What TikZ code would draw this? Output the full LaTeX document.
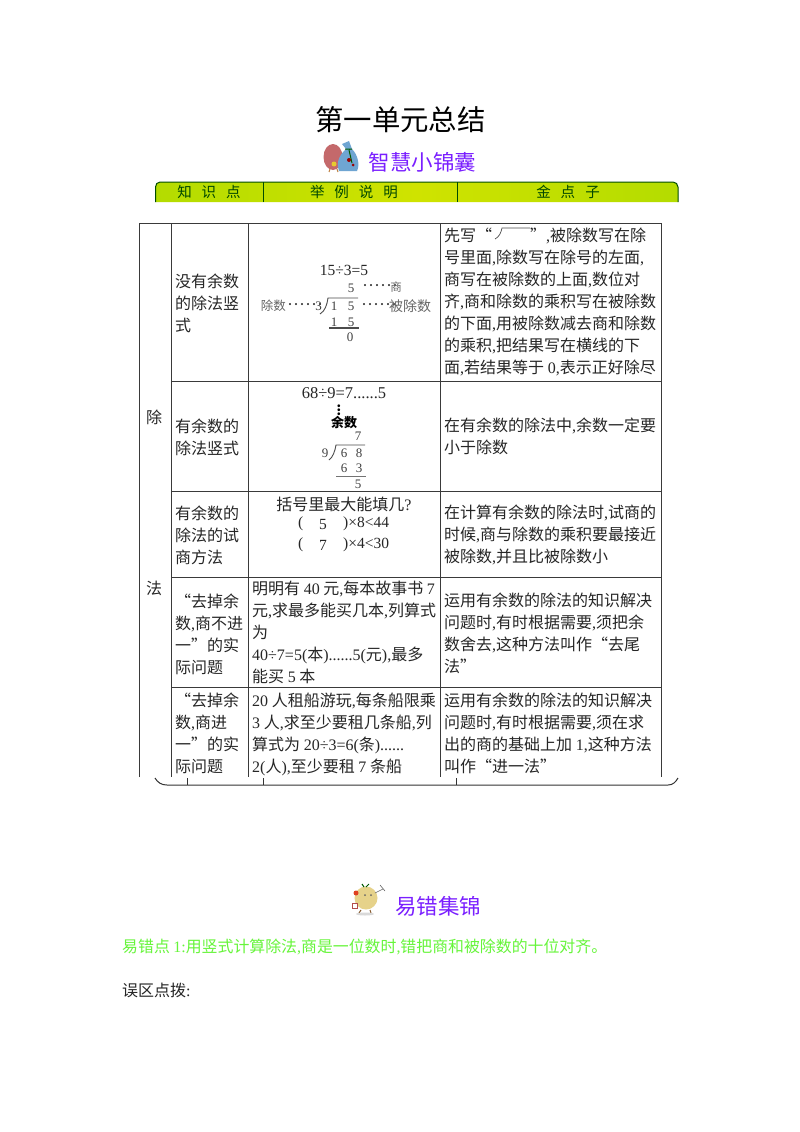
\documentclass[tikz,border=0pt]{standalone}
\usepackage{fontspec}
\setmainfont{Noto Sans CJK SC}
\newfontfamily\latfont{Liberation Serif}
\newcommand{\lat}[1]{{\latfont #1}}
\definecolor{gridgray}{HTML}{3A3A3A}
\definecolor{inkgray}{HTML}{262626}
\definecolor{titlepurple}{HTML}{7A1FFF}
\definecolor{pointgreen}{HTML}{66F53A}
\definecolor{barlime}{HTML}{B4DC00}
\definecolor{barmid}{HTML}{CFE300}
\definecolor{applered}{HTML}{C4696B}
\definecolor{bagblue}{HTML}{6FA5D2}
\definecolor{fruityellow}{HTML}{E6D28A}
\tikzset{
	cell/.style={anchor=north west,inner sep=0pt,align=left,text=inkgray,font=\fontsize{16}{22}\selectfont},
	heading/.style={inner sep=0pt,text=titlepurple,font=\fontsize{21.5}{24}\selectfont},
	barlabel/.style={inner sep=0pt,text=black!60!green!70!black,font=\fontsize{14.5}{16}\selectfont},
	sumtext/.style={inner sep=0pt,text=inkgray,font=\latfont\fontsize{15.5}{18}\selectfont},
	digit/.style={inner sep=0pt,text=black!75,font=\latfont\fontsize{13}{14}\selectfont},
	dotrow/.style={inner sep=0pt,text=black!75,font=\latfont\fontsize{18}{14}\selectfont},
	smalllabel/.style={inner sep=0pt,text=black!60,font=\fontsize{12.5}{14}\selectfont},
	gridline/.style={draw=gridgray,line width=1pt},
	divline/.style={draw=black!70,line width=0.9pt},
}
\begin{document}
\begin{tikzpicture}[x=1pt,y=-1pt]
	\useasboundingbox[fill=white] (0,0) rectangle (800,1132);

	\node[inner sep=0pt,text=black,font=\fontsize{28.4}{30}\selectfont] (title) at (400.5,120) {第一单元总结};
	\node[heading] (bagtitle) at (422.5,162) {智慧小锦囊};
	\node[heading] (errtitle) at (438,906) {易错集锦};

	% apple and bag
	\fill[applered] (333,157) ellipse (9.5 and 13);
	\fill[bagblue] (339,171) .. controls (335,160) and (342,153) .. (346,149) -- (342,144) -- (349,141) -- (352,149) .. controls (358,155) and (360,165) .. (357,171) -- cycle;
	\draw[green!35!black,line width=1pt] (345,149) -- (352,149) (349,150) -- (352,163);
	\fill[red!60!black] (349,160) circle (2) (353,165) circle (1.5);
	\fill[yellow!60!brown] (334,164) circle (2.5);
	\draw[brown,line width=1pt] (330,169) -- (329,172) (337,169) -- (338,172);

	% header bar
	\path[left color=barlime,right color=barlime,middle color=barmid] (155.5,202) -- (155.5,187) to[out=90,in=180] (160,182) -- (673,182) to[out=0,in=90] (678,187) -- (678,202) -- cycle;
	\draw[draw=green!30!black,line width=1pt] (155.5,202) -- (155.5,187) to[out=90,in=180] (160,182) -- (673,182) to[out=0,in=90] (678,187) -- (678,202);
	\draw[draw=green!30!black,line width=1pt] (263,182) -- (263,202) (457,182) -- (457,202);
	\node[barlabel] (barknow) at (209,192) {知\hspace{10pt}识\hspace{10pt}点};
	\node[barlabel] (barcase) at (354,192) {举\hspace{10pt}例\hspace{10pt}说\hspace{10pt}明};
	\node[barlabel] (bargold) at (568,192) {金\hspace{10pt}点\hspace{10pt}子};

	% table
	\draw[gridline] (139.5,777) -- (139.5,223.5) -- (661,223.5) -- (661,777);
	\draw[gridline] (171.5,223.5) -- (171.5,777) (248,223.5) -- (248,777) (440,223.5) -- (440,777);
	\foreach \rowy in {381,491.5,577,687}
		\draw[gridline] (171.5,\rowy) -- (661,\rowy);

	% bottom bracket
	\draw[draw=black!80,line width=1pt] (155,778) to[out=-60,in=180] (167,785) -- (668,785) to[out=0,in=-120] (678,778);
	\draw[draw=black!80,line width=1pt] (187,778) -- (187,785) (263,778) -- (263,785) (456,778) -- (456,785);

	\node[cell] (chu) at (146,410) {除};
	\node[cell] (fa) at (146,581) {法};

	\node[cell] (nameone) at (175,274) {没有余数\\的除法竖\\式};
	\node[cell] (nametwo) at (175,419) {有余数的\\除法竖式};
	\node[cell] (namethree) at (175,506) {有余数的\\除法的试\\商方法};
	\node[cell] (namefour) at (175,594) {“去掉余\\数\lat{,}商不进\\一”的实\\际问题};
	\node[cell] (namefive) at (175,693) {“去掉余\\数\lat{,}商进\\一”的实\\际问题};

	% first example
	\node[sumtext] (sumone) at (344,270) {15÷3=5};
	\node[digit] (quoone) at (351,288) {5};
	\node[dotrow,anchor=west] (quodots) at (362,288) {······};
	\node[smalllabel,font=\fontsize{11.5}{14}\selectfont] (quolabel) at (396,287) {商};
	\node[smalllabel,anchor=east] (divlabel) at (286,306) {除数};
	\node[dotrow,anchor=west] (divdots) at (287,307) {······};
	\node[digit] (divone) at (318.5,306) {3};
	\node[digit] (aone) at (334,306) {1};
	\node[digit] (bone) at (351,306) {5};
	\node[dotrow,anchor=west] (dvddots) at (361,307) {······};
	\node[smalllabel,anchor=west,font=\fontsize{14}{14}\selectfont] (dvdlabel) at (389,306) {被除数};
	\node[digit] (cone) at (334,322) {1};
	\node[digit] (done) at (351,322) {5};
	\node[digit] (eone) at (350,337) {0};
	\draw[divline] (320,314) .. controls (325,311) and (327,305) .. (328,298) -- (358,298);
	\draw[divline,line width=1.1pt] (329,328) -- (359,328);

	% second example
	\node[sumtext,font=\latfont\fontsize{16.5}{18}\selectfont] (sumtwo) at (344,393) {68÷9=7......5};
	\node[inner sep=0pt,text=black,font=\bfseries\fontsize{13}{14}\selectfont] (vdots) at (339,407) {$\vdots$};
	\node[inner sep=0pt,text=black,font=\bfseries\fontsize{13}{14}\selectfont] (remainder) at (344,423) {余数};
	\node[digit] (quotwo) at (358,436) {7};
	\node[digit] (divtwo) at (325,453) {9};
	\node[digit] (atwo) at (344,453) {6};
	\node[digit] (btwo) at (359,453) {8};
	\node[digit] (ctwo) at (344,468) {6};
	\node[digit] (dtwo) at (359,468) {3};
	\node[digit] (etwo) at (358,484) {5};
	\draw[divline] (329,460) .. controls (333,457) and (335,451) .. (336,445) -- (365,445);
	\draw[divline,draw=black!55] (336,476) -- (366,476);

	% third example
	\node[inner sep=0pt,text=inkgray,font=\fontsize{16}{22}\selectfont] (askfill) at (344,504) {括号里最大能填几\lat{?}};
	\node[sumtext,anchor=west] (lpone) at (298,524) {(};
	\node[sumtext] (fillone) at (323,524) {5};
	\node[sumtext,anchor=west] (restone) at (343,524) {)×8<44};
	\node[sumtext,anchor=west] (lptwo) at (298,545) {(};
	\node[sumtext] (filltwo) at (323,545) {7};
	\node[sumtext,anchor=west] (resttwo) at (343,545) {)×4<30};

	\node[cell] (bookcase) at (252,581) {明明有 \lat{40} 元\lat{,}每本故事书 \lat{7}\\元\lat{,}求最多能买几本\lat{,}列算式\\为\\\lat{40÷7=5(}本\lat{)......5(}元\lat{),}最多\\能买 \lat{5} 本};
	\node[cell] (boatcase) at (252,693) {\lat{20} 人租船游玩\lat{,}每条船限乘\\\lat{3} 人\lat{,}求至少要租几条船\lat{,}列\\算式为 \lat{20÷3=6(}条\lat{)......}\\\lat{2(}人\lat{),}至少要租 \lat{7} 条船};

	% right column
	\node[cell] (ruleone) at (444,228) {先写“\hspace{38pt}”\lat{,}被除数写在除\\号里面\lat{,}除数写在除号的左面\lat{,}\\商写在被除数的上面\lat{,}数位对\\齐\lat{,}商和除数的乘积写在被除数\\的下面\lat{,}用被除数减去商和除数\\的乘积\lat{,}把结果写在横线的下\\面\lat{,}若结果等于 \lat{0,}表示正好除尽};
	\draw[draw=black!70,line width=0.7pt] (495,239) .. controls (499,237) and (501,233) .. (502,228) -- (530,228);
	\node[cell] (ruletwo) at (444,418) {在有余数的除法中\lat{,}余数一定要\\小于除数};
	\node[cell] (rulethree) at (444,505) {在计算有余数的除法时\lat{,}试商的\\时候\lat{,}商与除数的乘积要最接近\\被除数\lat{,}并且比被除数小};
	\node[cell] (rulefour) at (444,593) {运用有余数的除法的知识解决\\问题时\lat{,}有时根据需要\lat{,}须把余\\数舍去\lat{,}这种方法叫作“去尾\\法”};
	\node[cell] (rulefive) at (444,693) {运用有余数的除法的知识解决\\问题时\lat{,}有时根据需要\lat{,}须在求\\出的商的基础上加 \lat{1,}这种方法\\叫作“进一法”};

	% fruit figure
	\fill[fruityellow] (366,898) circle (11.5);
	\draw[brown!70!black,line width=1pt] (361,910) -- (359,913) (370,910) -- (371,913);
	\fill[black!15] (365,914) ellipse (9 and 1.5);
	\draw[green!35!black,line width=1pt] (364,887) -- (362,884) (366,887) -- (369,884);
	\fill[red!50!brown] (356,893) circle (2.5);
	\fill[black!60] (365,895) circle (1) (371,895) circle (1);
	\draw[black!60,line width=0.6pt] (375,893) -- (383,889) (380,885) -- (385,891);
	\draw[red!40!gray,fill=white,line width=0.5pt] (352,903) rectangle (357,908);

	\node[anchor=west,inner sep=0pt,text=pointgreen,font=\fontsize{15.9}{20}\selectfont] (errpoint) at (122,947) {易错点 \lat{1:}用竖式计算除法\lat{,}商是一位数时\lat{,}错把商和被除数的十位对齐。};
	\node[anchor=west,inner sep=0pt,text=inkgray,font=\fontsize{16}{20}\selectfont] (errnote) at (122,990) {误区点拨\lat{:}};

\end{tikzpicture}
\end{document}
